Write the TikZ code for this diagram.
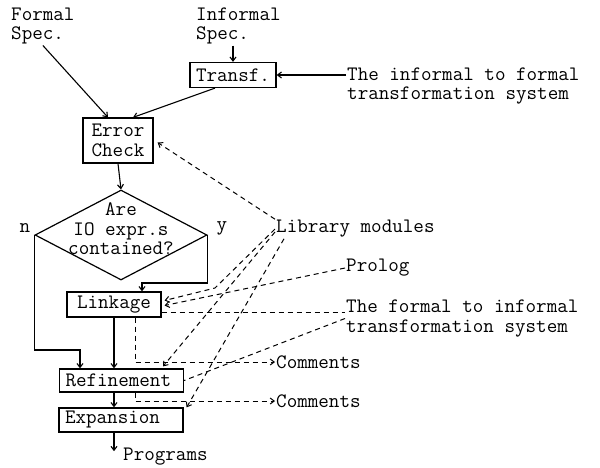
\documentclass[tikz,border=0pt]{standalone}
\usepackage{fontspec}
\usetikzlibrary{shapes.geometric,arrows.meta}

\begin{document}
\begin{tikzpicture}[x=1pt,y=-1pt,
  >={Straight Barb[length=4pt,width=6pt]},
  every node/.style={font=\ttfamily\fontsize{20.5}{19.5}\selectfont},
  lbl/.style={inner sep=1pt,align=left},
  box/.style={draw,line width=1.2pt,inner sep=0pt,align=center},
  widebox/.style={box,text width=112pt,inner xsep=6pt,minimum height=23pt,align=left},
  decision/.style={draw,diamond,line width=1.2pt,inner sep=0pt,minimum width=172pt,minimum height=90pt},
  flow/.style={->,line width=1.1pt},
  dline/.style={line width=1pt,dash pattern=on 5pt off 4pt}]
  \useasboundingbox (0,0) rectangle (600,467);

  \node[lbl,anchor=west] (fspec) at (10,26) {Formal\\Spec.};
  \node[lbl,anchor=west] (ispec) at (195,26) {Informal\\Spec.};
  \node[lbl,anchor=west] (itf) at (346,86) {The informal to formal\\transformation system};
  \node[box,minimum width=86pt,minimum height=25pt] (transf) at (233,75) {Transf.};
  \node[box,minimum width=70pt,minimum height=45pt] (errchk) at (118,140.5) {Error\\Check};
  \node[decision] (dec) at (121,235) {};
  \node[lbl,align=center] (dectxt) at (121,229) {Are\\IO expr.s\\contained?};
  \node[lbl] (nlbl) at (25,228) {n};
  \node[lbl] (ylbl) at (222,228) {y};
  \node[box,minimum width=94pt,minimum height=25pt] (link) at (114,304.5) {Linkage};
  \node[widebox] (refine) at (121.5,380.5) {Refinement};
  \node[widebox,minimum height=24pt] (expand) at (121,420) {Expansion};
  \node[lbl,anchor=west] (prog) at (122,457) {Programs};
  \node[lbl,anchor=west] (lib) at (275,229) {Library modules};
  \node[lbl,anchor=west] (prolog) at (345,268) {Prolog};
  \node[lbl,anchor=west] (fti) at (345,318.5) {The formal to informal\\transformation system};
  \node[lbl,anchor=west] (comA) at (275,362) {Comments};
  \node[lbl,anchor=west] (comB) at (275,401) {Comments};
  \coordinate (kink) at (215,288);

  \draw[flow] (fspec.south) -- ([xshift=-10pt]errchk.north);
  \draw[flow] (transf.north |- ispec.south) -- (transf.north);
  \draw[flow] (itf.west |- transf.east) -- (transf.east);
  \draw[flow] ([xshift=-18pt]transf.south) -- ([xshift=15pt]errchk.north);
  \draw[flow] (errchk.south) -- (dec.north);
  \draw[flow] (dec.east) -- ++(0,48) -| ([xshift=28pt]link.north);
  \draw[flow] (dec.west) -- ++(0,115) -| ([xshift=-41.5pt]refine.north);
  \draw[flow] (link.south) -- (link.south |- refine.north);
  \draw[flow] (link.south |- refine.south) -- (link.south |- expand.north);
  \draw[flow] (link.south |- expand.south) -- ([yshift=-4pt]link.south |- prog.north);

  \draw[dline,->] (lib.north west) -- ([xshift=4pt,yshift=-2pt]errchk.east);
  \draw[dline,->] (lib.west) -- (kink) -- ([xshift=3pt,yshift=4pt]link.east);
  \draw[dline,->] (prolog.west) -- ([xshift=3pt,yshift=-1pt]link.east);
  \draw[dline,->] ([yshift=-3pt]lib.west) -- ([xshift=41.5pt,yshift=2pt]refine.north);
  \draw[dline,->] ([xshift=9pt]lib.south west) -- ([xshift=3pt]expand.north east);
  \draw[dline] ([yshift=-7.5pt]link.east) -- ([yshift=-7.5pt]link.east -| fti.west);
  \draw[dline] (fti.west) -- (refine.east);
  \draw[dline,->] ([xshift=21pt]link.south) |- (comA.west);
  \draw[dline,->] ([xshift=13.5pt]refine.south) |- (comB.west);
\end{tikzpicture}
\end{document}
